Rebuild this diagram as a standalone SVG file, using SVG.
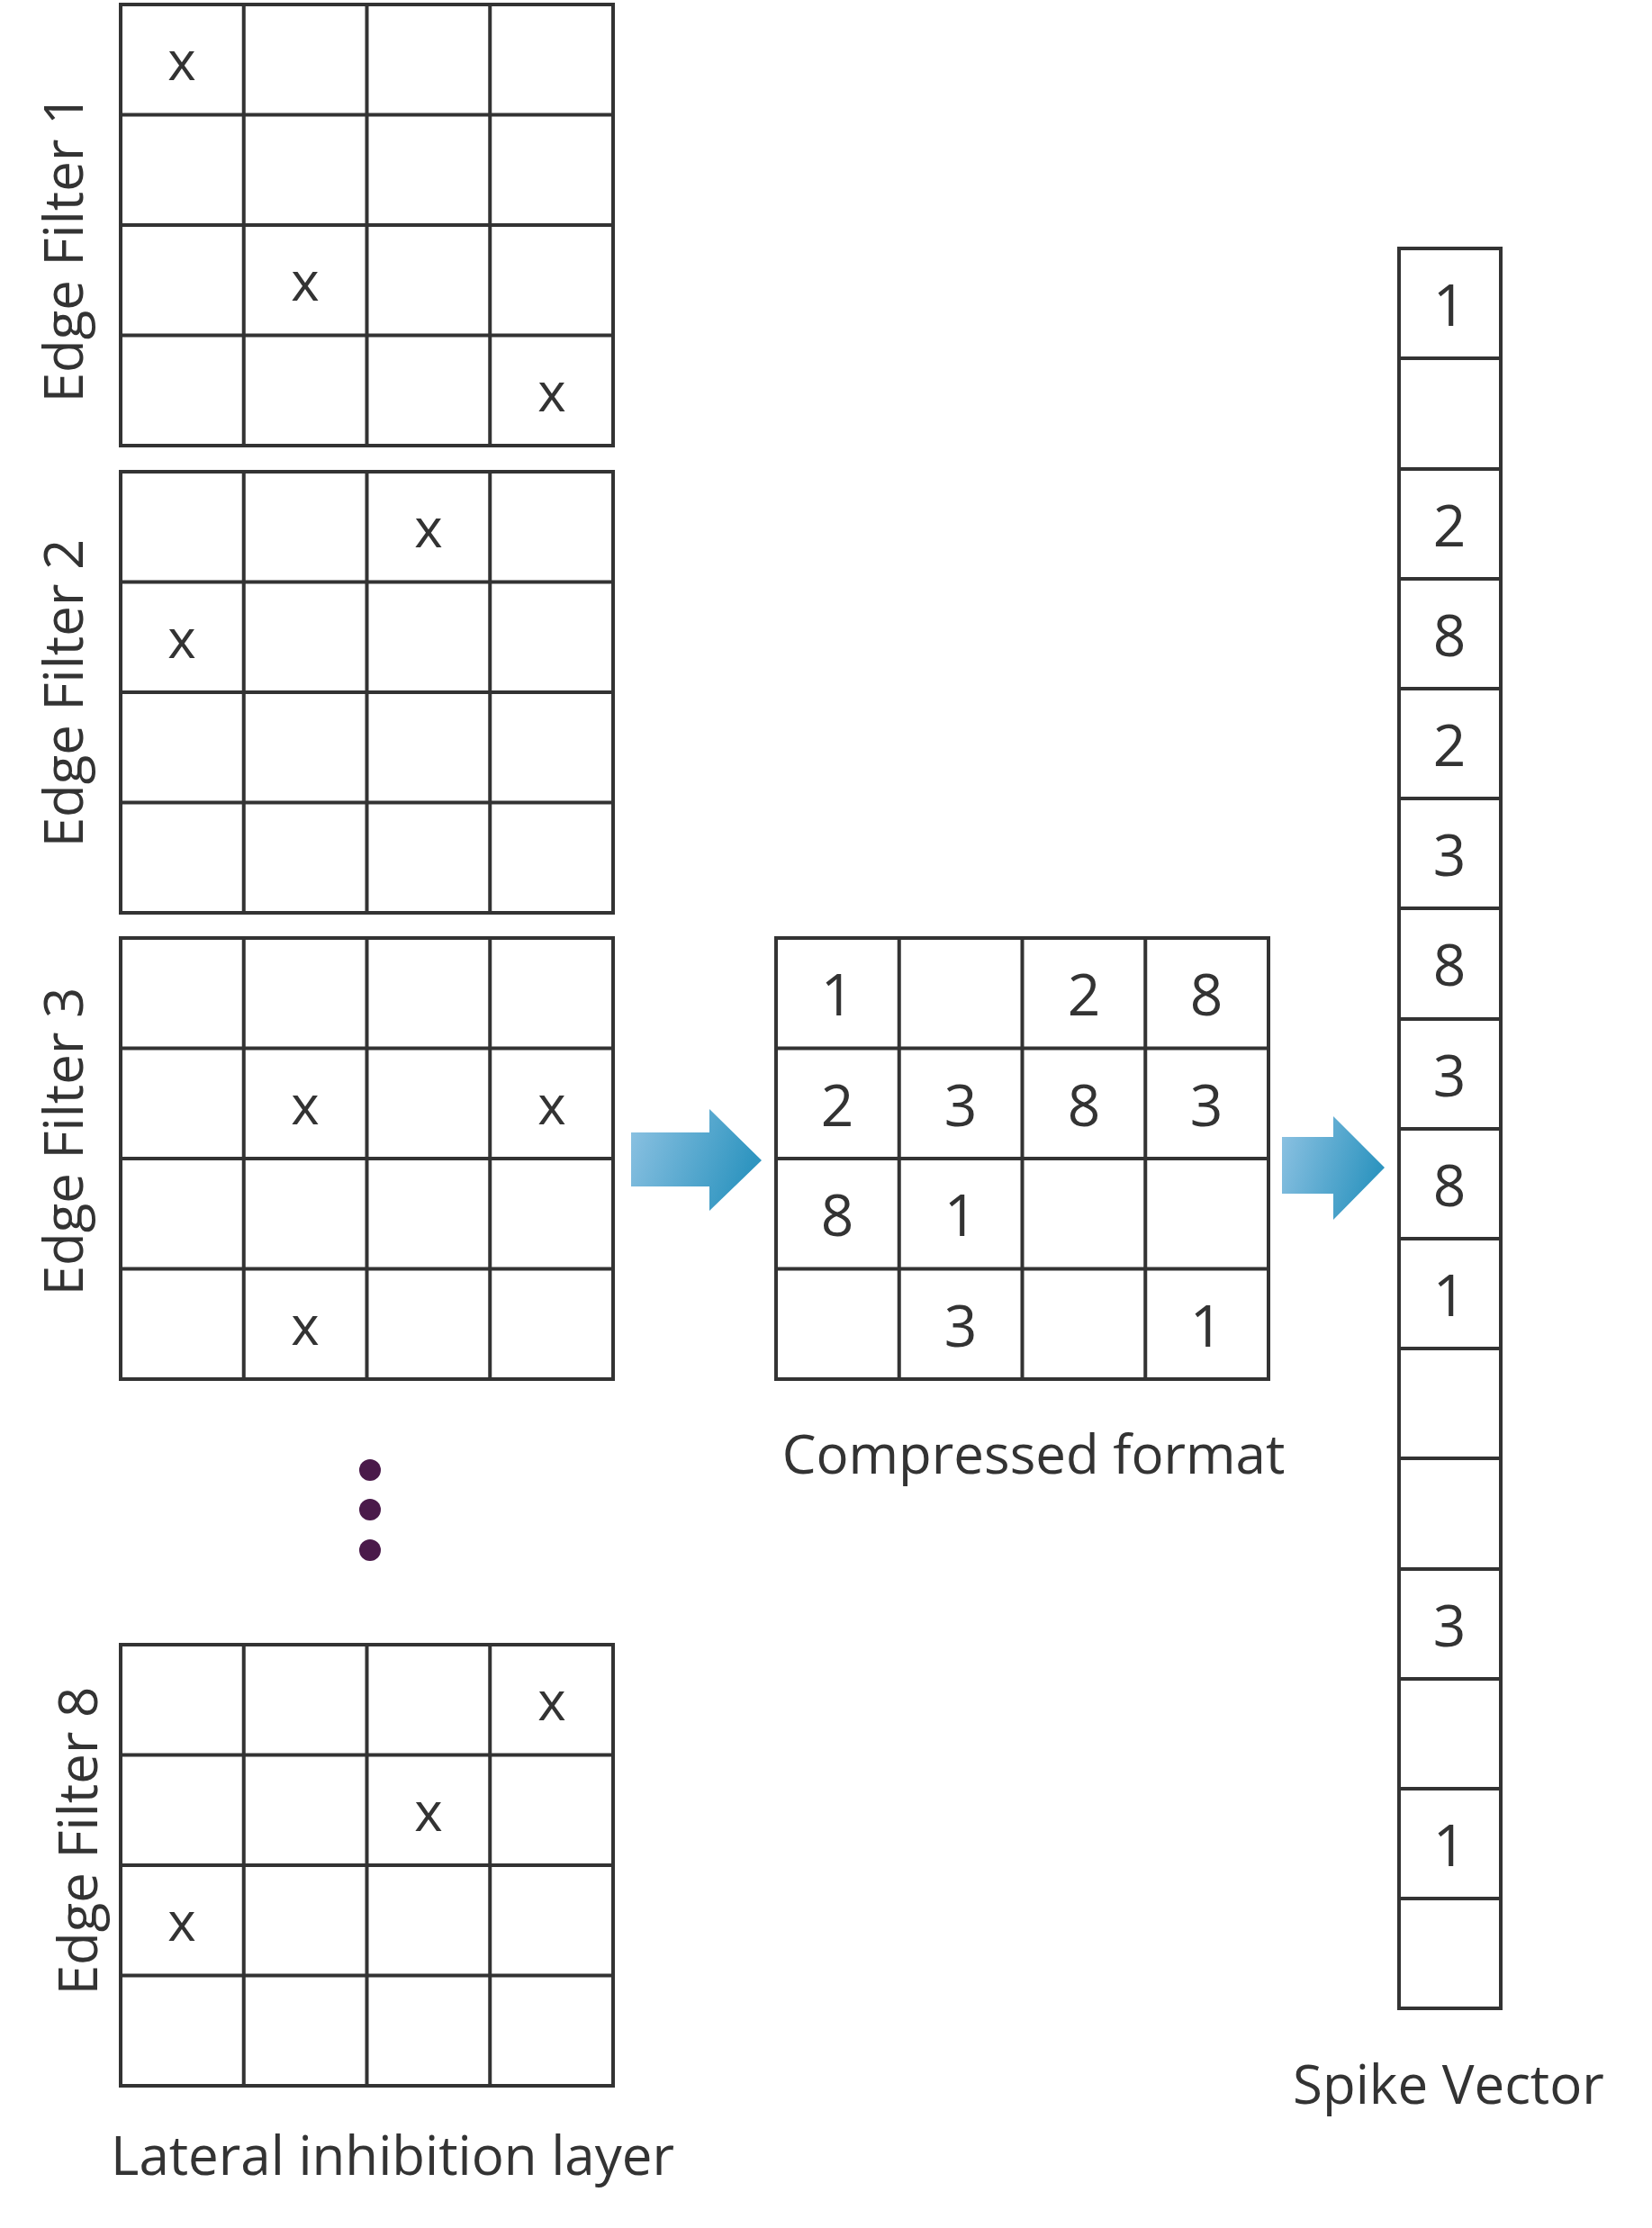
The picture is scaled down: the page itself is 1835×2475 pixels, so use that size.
<svg xmlns="http://www.w3.org/2000/svg" width="1835" height="2475" viewBox="0 0 1835 2475">
<style>
.g{fill:none;stroke:#333;stroke-width:4}
.t{font-family:"Open Sans","Liberation Sans",sans-serif;fill:#333}
.x{font-size:60px;text-anchor:middle;dominant-baseline:central}
.n{font-size:64px;text-anchor:middle;dominant-baseline:central}
.l{font-size:60px;text-anchor:middle}
</style>
<defs>
<linearGradient id="ag" x1="0" y1="0" x2="1" y2="0.3"><stop offset="0" stop-color="#8fc3e3"/><stop offset="1" stop-color="#2f95c0"/></linearGradient>
<g id="grid"><rect class="g" x="0" y="0" width="547" height="490"/>
<path class="g" d="M136.75 0V490M273.5 0V490M410.25 0V490M0 122.5H547M0 245H547M0 367.5H547"/></g>
</defs>
<g id="filter1"><use href="#grid" x="134" y="5"/>
<g class="t x"><text x="202" y="66">x</text><text x="339" y="311">x</text><text x="613" y="434">x</text></g>
<text class="t l" transform="translate(92,276) rotate(-90)">Edge Filter 1</text></g>
<g id="filter2"><use href="#grid" x="134" y="524"/>
<g class="t x"><text x="476" y="585">x</text><text x="202" y="708">x</text></g>
<text class="t l" transform="translate(92,770) rotate(-90)">Edge Filter 2</text></g>
<g id="filter3"><use href="#grid" x="134" y="1042"/>
<g class="t x"><text x="339" y="1226">x</text><text x="613" y="1226">x</text><text x="339" y="1471">x</text></g>
<text class="t l" transform="translate(92,1268) rotate(-90)">Edge Filter 3</text></g>
<g id="dots" fill="#4a1a4a"><circle cx="411" cy="1633" r="12"/><circle cx="411" cy="1677" r="12"/><circle cx="411" cy="1722" r="12"/></g>
<g id="filter8"><use href="#grid" x="134" y="1827"/>
<g class="t x"><text x="613" y="1888">x</text><text x="476" y="2011">x</text><text x="202" y="2133">x</text></g>
<text class="t l" transform="translate(108,2045) rotate(-90)">Edge Filter 8</text></g>
<text class="t l" x="436" y="2416">Lateral inhibition layer</text>
<g id="compressed"><use href="#grid" x="862" y="1042"/>
<g class="t n"><text x="930" y="1103">1</text><text x="1204" y="1103">2</text><text x="1340" y="1103">8</text>
<text x="930" y="1226">2</text><text x="1067" y="1226">3</text><text x="1204" y="1226">8</text><text x="1340" y="1226">3</text>
<text x="930" y="1348">8</text><text x="1067" y="1348">1</text>
<text x="1067" y="1471">3</text><text x="1340" y="1471">1</text></g>
<text class="t l" x="1148" y="1637">Compressed format</text></g>
<g id="spike"><rect class="g" x="1554" y="276" width="113" height="1955"/>
<path class="g" d="M1554 398H1667M1554 521H1667M1554 643H1667M1554 765H1667M1554 887H1667M1554 1009H1667M1554 1132H1667M1554 1254H1667M1554 1376H1667M1554 1498H1667M1554 1620H1667M1554 1743H1667M1554 1865H1667M1554 1987H1667M1554 2109H1667"/>
<g class="t n"><text x="1610" y="337">1</text><text x="1610" y="582">2</text><text x="1610" y="704">8</text><text x="1610" y="826">2</text><text x="1610" y="948">3</text><text x="1610" y="1070">8</text><text x="1610" y="1193">3</text><text x="1610" y="1315">8</text><text x="1610" y="1437">1</text><text x="1610" y="1804">3</text><text x="1610" y="2048">1</text></g>
<text class="t l" x="1609" y="2337">Spike Vector</text></g>
<g id="connectors" fill="url(#ag)">
<path d="M701 1258H788V1232L846 1289L788 1345V1318H701Z"/>
<path d="M1424 1263H1481V1240L1538 1297L1481 1355V1326H1424Z"/>
</g>
</svg>
